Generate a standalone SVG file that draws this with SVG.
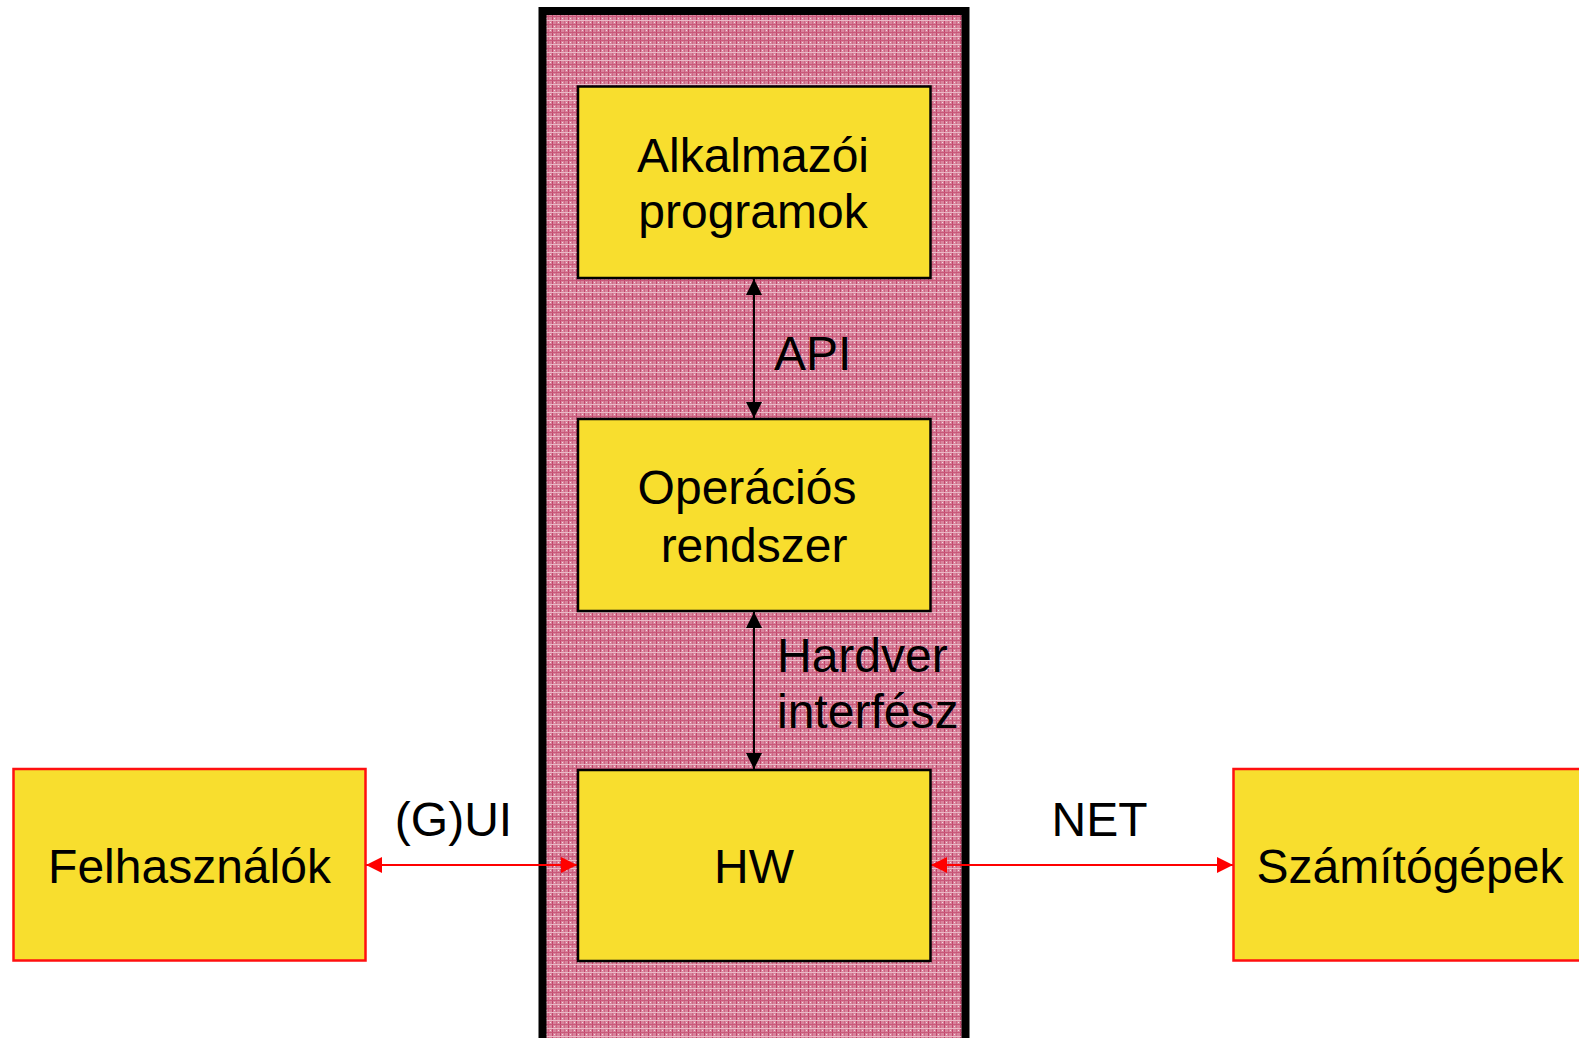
<svg xmlns="http://www.w3.org/2000/svg" width="1579" height="1038" viewBox="0 0 1579 1038">
<style>
text{font-family:"Liberation Sans",Arial,sans-serif;font-size:48px;fill:#000}
.mid{text-anchor:middle}
.inner{fill:#f8de2e;stroke:#000;stroke-width:2.5}
.outer{fill:#f8de2e;stroke:#ff1010;stroke-width:2.5}
.blk{stroke:#000;stroke-width:2;fill:none}
.red{stroke:#ff0000;stroke-width:2;fill:none}
</style>
<defs>
<pattern id="tex" width="8" height="8" patternUnits="userSpaceOnUse">
<rect width="8" height="8" fill="#d8849c"/>
<rect x="0" y="0" width="1" height="8" fill="#c2446a"/>
<rect x="4" y="0" width="1" height="8" fill="#cd6684"/>
<rect x="0" y="0" width="8" height="1" fill="#c9587a"/>
<rect x="0" y="4" width="8" height="1" fill="#eab8c6"/>
<rect x="2" y="2" width="1" height="1" fill="#f4dbe2"/>
<rect x="6" y="6" width="1" height="1" fill="#f4dbe2"/>
</pattern>
<marker id="ab" viewBox="0 0 16 16" refX="16" refY="8" markerWidth="16" markerHeight="16" markerUnits="userSpaceOnUse" orient="auto-start-reverse">
<path d="M0,0 L16,8 L0,16 Z" fill="#000"/>
</marker>
<marker id="ar" viewBox="0 0 16 16" refX="16" refY="8" markerWidth="16" markerHeight="16" markerUnits="userSpaceOnUse" orient="auto-start-reverse">
<path d="M0,0 L16,8 L0,16 Z" fill="#ff0000"/>
</marker>
</defs>
<rect width="1579" height="1038" fill="#fff"/>
<g id="system">
<rect x="542.5" y="11" width="423" height="1031" fill="url(#tex)" stroke="#000" stroke-width="8"/>
</g>
<g id="connectors">
<line class="blk" x1="754" y1="279" x2="754" y2="418" marker-start="url(#ab)" marker-end="url(#ab)"/>
<line class="blk" x1="754" y1="612" x2="754" y2="769" marker-start="url(#ab)" marker-end="url(#ab)"/>
<line class="red" x1="366" y1="865" x2="577" y2="865" marker-start="url(#ar)" marker-end="url(#ar)"/>
<line class="red" x1="931" y1="865" x2="1233" y2="865" marker-start="url(#ar)" marker-end="url(#ar)"/>
<text x="774" y="370">API</text>
<text x="777" y="672">Hardver</text>
<text x="777" y="728">interfész</text>
<text x="453.5" y="836" class="mid">(G)UI</text>
<text x="1099.5" y="836" class="mid">NET</text>
</g>
<g id="alkalmazoi">
<rect class="inner" x="578" y="86.5" width="352.5" height="191.5"/>
<text x="753" y="172" class="mid">Alkalmazói</text>
<text x="753" y="228" class="mid">programok</text>
</g>
<g id="operacios">
<rect class="inner" x="578" y="419" width="352.5" height="192"/>
<text x="747" y="504" class="mid">Operációs</text>
<text x="754" y="562" class="mid">rendszer</text>
</g>
<g id="hw">
<rect class="inner" x="578" y="770" width="352.5" height="191"/>
<text x="754" y="883" class="mid">HW</text>
</g>
<g id="felhasznalok">
<rect class="outer" x="13.5" y="769" width="352" height="191.5"/>
<text x="189.5" y="883" class="mid">Felhasználók</text>
</g>
<g id="szamitogepek">
<rect class="outer" x="1233.5" y="769" width="352" height="191.5"/>
<text x="1410" y="883" class="mid">Számítógépek</text>
</g>
</svg>
